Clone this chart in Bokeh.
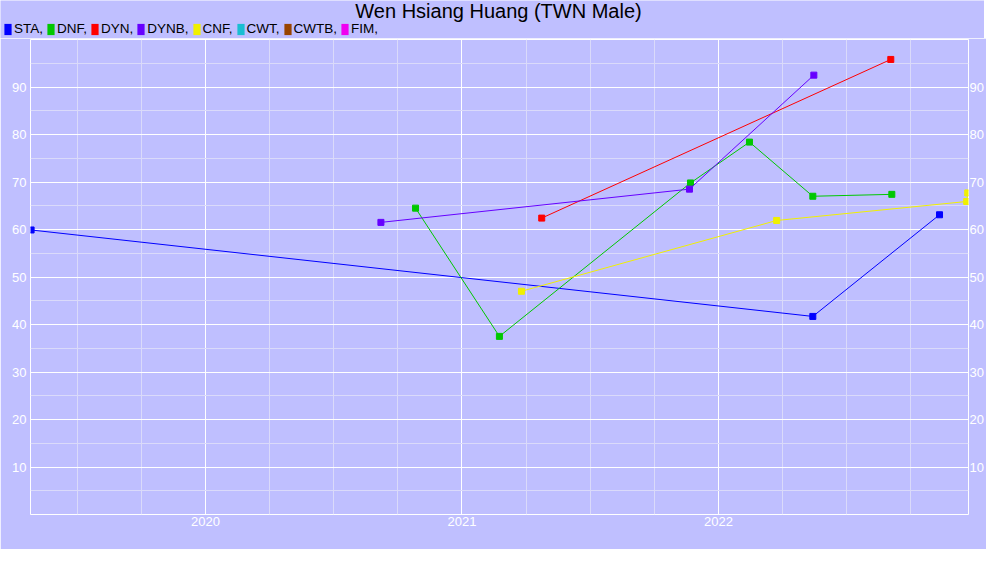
from bokeh.plotting import figure
from bokeh.layouts import column, row
from bokeh.models import (Range1d, FixedTicker, LinearAxis, Legend, LegendItem,
                          ColumnDataSource, Label)
from bokeh.embed import file_html
from bokeh.resources import INLINE

# ---- data (decimal years, score) ----
sta_x = [2019.32, 2022.368, 2022.862]
sta_y = [59.9, 41.7, 63.1]
dnf_x = [2020.819, 2021.146, 2021.891, 2022.121, 2022.368, 2022.676]
dnf_y = [64.5, 37.5, 69.8, 78.4, 67.0, 67.4]
dyn_x = [2021.311, 2022.672]
dyn_y = [62.4, 95.8]
dynb_x = [2020.684, 2021.887, 2022.372]
dynb_y = [61.5, 68.5, 92.5]
cnf_x = [2021.232, 2022.227, 2022.968, 2022.972]
cnf_y = [47.0, 61.9, 65.9, 67.7]

title_text = "Wen Hsiang Huang (TWN Male)"
series_names = ["STA", "DNF", "DYN", "DYNB", "CNF", "CWT", "CWTB", "FIM"]
series_colors = ["#0000FF", "#00C800", "#FF0000", "#6600FF", "#F0F000",
                 "#19BED2", "#994400", "#F000F0"]
series_data = {
    "STA": (sta_x, sta_y),
    "DNF": (dnf_x, dnf_y),
    "DYN": (dyn_x, dyn_y),
    "DYNB": (dynb_x, dynb_y),
    "CNF": (cnf_x, cnf_y),
    "CWT": ([], []),
    "CWTB": ([], []),
    "FIM": ([], []),
}
year_ticks = [2020, 2021, 2022]
quarter_ticks = [2019.5, 2019.75, 2020.25, 2020.5, 2020.75, 2021.25, 2021.5,
                 2021.75, 2022.25, 2022.5, 2022.75]
y_ticks = [10, 20, 30, 40, 50, 60, 70, 80, 90]
y_minor = [5, 15, 25, 35, 45, 55, 65, 75, 85, 95]

BG = "#BFBFFF"
FONT = "Liberation Sans"
W = 984
HEAD_H = 38
NAN = float("nan")

# ---------- header: title + legend ----------
head = figure(width=W, height=HEAD_H, output_backend="svg",
              toolbar_location=None, x_axis_type=None, y_axis_type=None,
              x_range=Range1d(0, 1), y_range=Range1d(0, 1),
              min_border=0)
head.background_fill_color = BG
head.border_fill_color = BG
head.outline_line_color = None
head.grid.visible = False

head.add_layout(Label(x=W / 2 + 6, y=HEAD_H - 10, x_units="screen",
                      y_units="screen", text=title_text, text_align="center",
                      text_baseline="middle", text_font=FONT,
                      text_font_size="20px", text_color="black"))

legend_items = []
for name, color in zip(series_names, series_colors):
    proxy = head.rect(x=[NAN], y=[NAN], width=1, height=1, fill_color=color,
                      line_color=None)
    legend_items.append(LegendItem(label=name + ",", renderers=[proxy]))

legend = Legend(items=legend_items, orientation="horizontal",
                location=(3, 2), glyph_width=9, glyph_height=14,
                label_height=14, label_standoff=2, spacing=3, padding=0,
                margin=0, border_line_color=None, background_fill_alpha=0,
                label_text_font=FONT, label_text_font_size="13.5px",
                label_text_color="black")
head.add_layout(legend, "center")

# ---------- main plot ----------
p = figure(frame_width=938, frame_height=475, output_backend="svg",
           toolbar_location=None, x_range=Range1d(2019.3177, 2022.975),
           y_range=Range1d(0, 100),
           min_border_left=30, min_border_right=16, min_border_top=1,
           min_border_bottom=35)
p.background_fill_color = BG
p.border_fill_color = BG
p.outline_line_color = "white"
p.outline_line_width = 1

def style_axis(ax):
    ax.axis_line_color = None
    ax.major_tick_line_color = None
    ax.minor_tick_line_color = None
    ax.major_tick_out = 0
    ax.major_tick_in = 0
    ax.minor_tick_out = 0
    ax.minor_tick_in = 0
    ax.major_label_text_color = "white"
    ax.major_label_text_font = FONT
    ax.major_label_text_font_size = "13px"

p.xaxis.ticker = FixedTicker(ticks=year_ticks, minor_ticks=quarter_ticks)
p.yaxis.ticker = FixedTicker(ticks=y_ticks, minor_ticks=y_minor)
for ax in p.xaxis + p.yaxis:
    style_axis(ax)
p.xaxis.major_label_standoff = 2
p.yaxis.major_label_standoff = 4

ry = LinearAxis(ticker=FixedTicker(ticks=y_ticks, minor_ticks=y_minor))
style_axis(ry)
ry.major_label_standoff = 1
p.add_layout(ry, "right")

for g in (p.xgrid, p.ygrid):
    g.grid_line_color = "white"
    g.grid_line_width = 1
    g.minor_grid_line_color = "#DADAFA"
    g.minor_grid_line_width = 1

for name, color in zip(series_names, series_colors):
    xs, ys = series_data[name]
    if not xs:
        continue
    src = ColumnDataSource(dict(x=xs, y=ys))
    p.line("x", "y", source=src, line_color=color, line_width=1)
    p.scatter("x", "y", source=src, marker="square", size=6,
              fill_color=color, line_color=color)

layout = column(row(head), p, spacing=0)
open("out.html", "w").write(file_html(layout, INLINE))
